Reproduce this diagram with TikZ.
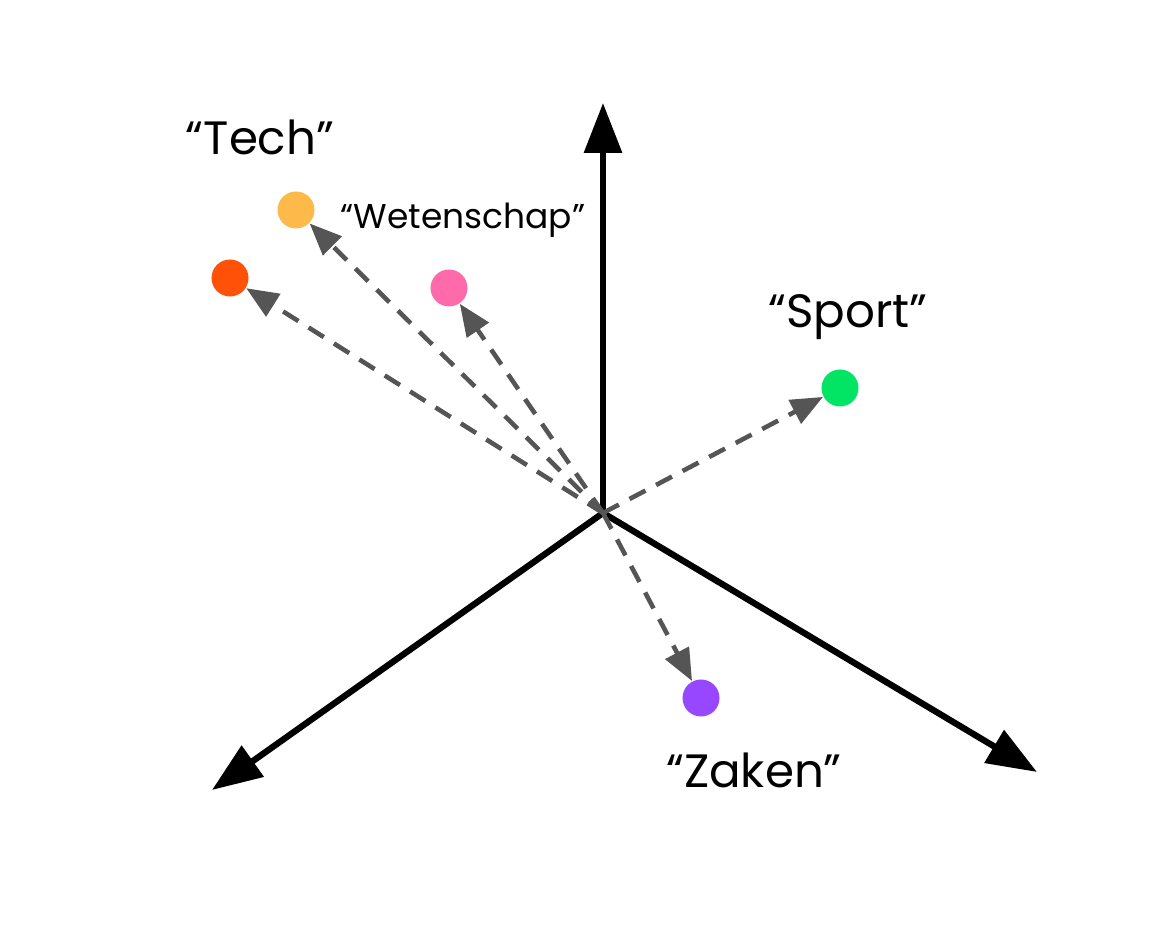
\documentclass[tikz,border=0pt]{standalone}
\usepackage{fontspec}
\setmainfont{Poppins}
\usepackage{tikz}
\usetikzlibrary{arrows.meta}
\definecolor{dotyellow}{HTML}{FDB94A}
\definecolor{dotred}{HTML}{FF5208}
\definecolor{dotpink}{HTML}{FF6BAA}
\definecolor{dotgreen}{HTML}{02E463}
\definecolor{dotpurple}{HTML}{9747FF}
\definecolor{vecgray}{HTML}{555555}
\tikzstyle{node_dot} = [circle, inner sep=0pt, minimum size=3.7mm]
\tikzstyle{node_label} = [inner sep=0pt, font=\fontsize{13.3}{15}\selectfont]
\tikzstyle{node_small} = [inner sep=0pt, font=\fontsize{9.8}{12}\selectfont]
\tikzstyle{edge_axis} = [line width=1.8pt, -{Triangle[length=5mm, width=3.7mm]}]
\tikzstyle{edge_vec} = [vecgray, line width=1.3pt, dash pattern=on 1.8mm off 1.2mm, -{Triangle[length=3.2mm, width=2.6mm]}]

\begin{document}
\begin{tikzpicture}
			\useasboundingbox (0,0) rectangle (11.52,-9.28);
			\coordinate (O) at (6.03,-5.13);
			\coordinate (U) at (6.03,-1.03);
			\coordinate (L) at (2.12,-7.90);
			\coordinate (R) at (10.37,-7.72);
			
			\node (Y) at (2.96,-2.10) [node_dot, fill=dotyellow] {};
			\node (Q) at (2.30,-2.78) [node_dot, fill=dotred] {};
			\node (P) at (4.49,-2.88) [node_dot, fill=dotpink] {};
			\node (G) at (8.40,-3.88) [node_dot, fill=dotgreen] {};
			\node (Z) at (7.01,-6.98) [node_dot, fill=dotpurple] {};
			
			\node (tech) at (2.60,-1.37) [node_label] {“Tech”};
			\node (wet) at (4.63,-2.20) [node_small] {“Wetenschap”};
			\node (sport) at (8.48,-3.17) [node_label] {“Sport”};
			\node (zaken) at (7.54,-7.70) [node_label] {“Zaken”};
			
			\draw[edge_axis] (O)--(U);
			\draw[edge_axis] (O)--(L);
			\draw[edge_axis] (O)--(R);
			
			\draw[edge_vec] (O)--(Y);
			\draw[edge_vec] (O)--(Q);
			\draw[edge_vec] (O)--(P);
			\draw[edge_vec] (O)--(G);
			\draw[edge_vec] (O)--(Z);
		\end{tikzpicture}
\end{document}
